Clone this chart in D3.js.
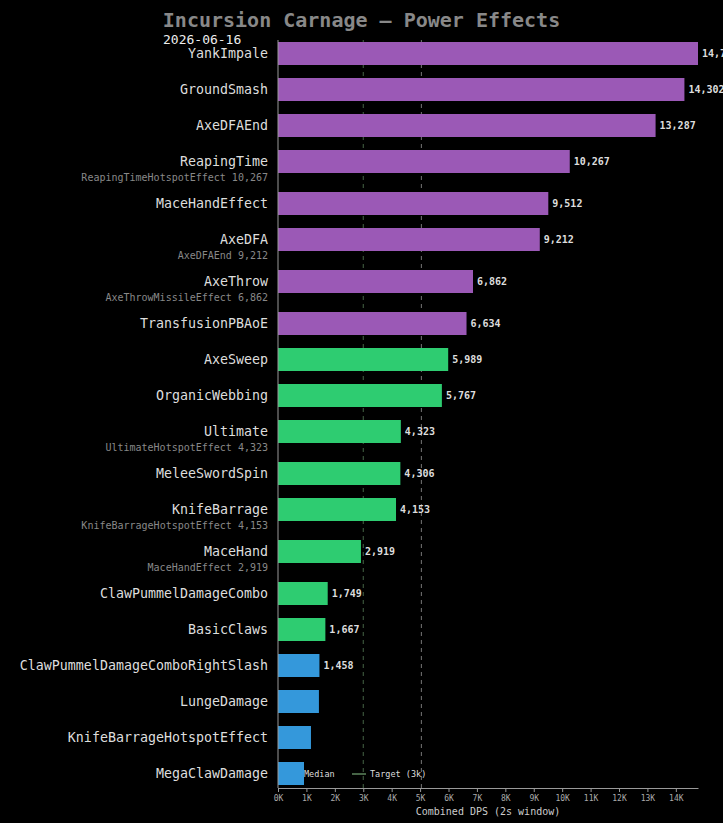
<!DOCTYPE html>
<html>
<head>
<meta charset="utf-8">
<script src="https://cdn.jsdelivr.net/npm/d3@7"></script>
<style>
  body { margin: 0; background: #000; }
  svg { display: block; font-family: "DejaVu Sans Mono", monospace; }
</style>
</head>
<body>
<div id="chart"></div>
<script>
// data
const powers = [
    'YankImpale', 'GroundSmash', 'AxeDFAEnd', 'ReapingTime', 'MaceHandEffect',
    'AxeDFA', 'AxeThrow', 'TransfusionPBAoE', 'AxeSweep', 'OrganicWebbing',
    'Ultimate', 'MeleeSwordSpin', 'KnifeBarrage', 'MaceHand', 'ClawPummelDamageCombo',
    'BasicClaws', 'ClawPummelDamageComboRightSlash', 'LungeDamage',
    'KnifeBarrageHotspotEffect', 'MegaClawDamage'
]
const dps = [
    14780, 14302, 13287, 10267, 9512,
    9212, 6862, 6634, 5989, 5767,
    4323, 4306, 4153, 2919, 1749,
    1667, 1458, 1440, 1160, 915
]
// secondary effect folded into each row (empty = none)
const subEffects = [
    '', '', '', 'ReapingTimeHotspotEffect', '',
    'AxeDFAEnd', 'AxeThrowMissileEffect', '', '', '',
    'UltimateHotspotEffect', '', 'KnifeBarrageHotspotEffect', 'MaceHandEffect', '',
    '', '', '', '', ''
]
const subDps = [
    0, 0, 0, 10267, 0,
    9212, 6862, 0, 0, 0,
    4323, 0, 4153, 2919, 0,
    0, 0, 0, 0, 0
]
const showValue = [
    true, true, true, true, true, true, true, true, true, true,
    true, true, true, true, true, true, true, false, false, false
]
const tickValues = [0, 1000, 2000, 3000, 4000, 5000, 6000, 7000, 8000, 9000, 10000, 11000, 12000, 13000, 14000]
const targetDps = 3000
const chartTitle = 'Incursion Carnage \u2014 Power Effects'
const chartDate = '2026-06-16'

const data = powers.map((p, i) => ({
    name: p, value: dps[i], sub: subEffects[i], subValue: subDps[i], label: showValue[i]
}))

/* Set the dimensions and margins */
const width = 723, height = 823
const margin = {top: 42, left: 278, right: 25}
const rowBase = 36, rowExtra = 6, barH = 23
const axisY = 788

const svg = d3.select('#chart')
    .append('svg')
    .attr('width', width)
    .attr('height', height)

const fmt = d3.format(',')

/* row offsets, rows with a sub effect get a little more room */
let acc = margin.top
const offsets = data.map(d => {
    const y = acc
    acc += rowBase + (d.sub ? rowExtra : 0)
    return y
})
const yScale = d3.scaleOrdinal()
    .domain(powers)
    .range(offsets)

const xScale = d3.scaleLinear()
    .domain([0, d3.max(dps)])
    .range([margin.left, width - margin.right])

const tier = v => v > 6000 ? 'high' : (v >= 1500 ? 'mid' : 'low')
const color = d3.scaleOrdinal()
    .domain(['high', 'mid', 'low'])
    .range(['#9b59b6', '#2ecc71', '#3498db'])

const median = d3.median(dps)

/* Title */
svg.append('text')
    .attr('x', width / 2)
    .attr('y', 27)
    .attr('text-anchor', 'middle')
    .attr('fill', '#888')
    .attr('font-size', 20)
    .attr('font-weight', 'bold')
    .text(chartTitle)

svg.append('text')
    .attr('x', 163)
    .attr('y', 44)
    .attr('fill', '#eee')
    .attr('font-size', 13)
    .text(chartDate)

/* reference lines */
svg.append('line')
    .attr('x1', xScale(targetDps)).attr('x2', xScale(targetDps))
    .attr('y1', margin.top - 2).attr('y2', axisY)
    .attr('stroke', '#466446')
    .attr('stroke-dasharray', '4,4')

svg.append('line')
    .attr('x1', xScale(median)).attr('x2', xScale(median))
    .attr('y1', margin.top - 2).attr('y2', axisY)
    .attr('stroke', '#777')
    .attr('stroke-dasharray', '4,4')

/* legend (drawn under the bars) */
const legend = svg.append('g')
    .attr('transform', `translate(${margin.left}, 774)`)
    .attr('font-size', 8.5)
    .attr('fill', '#ddd')
legend.append('line')
    .attr('x1', 4).attr('x2', 20).attr('y1', 0).attr('y2', 0)
    .attr('stroke', '#777').attr('stroke-width', 2).attr('stroke-dasharray', '4,2')
legend.append('text').attr('x', 26).attr('y', 3).text('Median')
legend.append('line')
    .attr('x1', 74).attr('x2', 88).attr('y1', 0).attr('y2', 0)
    .attr('stroke', '#466446').attr('stroke-width', 2)
legend.append('text').attr('x', 92).attr('y', 3).text('Target (3k)')

/* bars */
svg.append('g')
    .selectAll('rect')
    .data(data)
    .join('rect')
    .attr('x', xScale(0))
    .attr('y', d => yScale(d.name))
    .attr('width', d => xScale(d.value) - xScale(0))
    .attr('height', barH)
    .attr('fill', d => color(tier(d.value)))

/* value labels */
svg.append('g')
    .selectAll('text')
    .data(data.filter(d => d.label))
    .join('text')
    .attr('x', d => xScale(d.value) + 4)
    .attr('y', d => yScale(d.name) + barH / 2)
    .attr('dy', '0.35em')
    .attr('fill', '#ddd')
    .attr('font-size', 10)
    .attr('font-weight', 'bold')
    .text(d => fmt(d.value))

/* category labels */
svg.append('g')
    .selectAll('text')
    .data(data)
    .join('text')
    .attr('x', margin.left - 10)
    .attr('y', d => yScale(d.name) + barH / 2)
    .attr('dy', '0.35em')
    .attr('text-anchor', 'end')
    .attr('fill', '#ddd')
    .attr('font-size', 13.3)
    .text(d => d.name)

svg.append('g')
    .selectAll('text')
    .data(data.filter(d => d.sub))
    .join('text')
    .attr('x', margin.left - 10)
    .attr('y', d => yScale(d.name) + barH + 8)
    .attr('text-anchor', 'end')
    .attr('fill', '#888')
    .attr('font-size', 10)
    .text(d => `${d.sub} ${fmt(d.subValue)}`)

/* axes */
const xAxis = d3.axisBottom(xScale)
    .tickValues(tickValues)
    .tickFormat(d => (d / 1000) + 'K')
    .tickSize(4)
    .tickSizeOuter(0)
const xGroup = svg.append('g')
    .attr('transform', `translate(0, ${axisY})`)
    .call(xAxis)
xGroup.select('.domain').attr('stroke', '#999')
xGroup.selectAll('.tick line').attr('stroke', '#999')
xGroup.selectAll('.tick text')
    .attr('fill', '#aaa')
    .attr('font-size', 8)
    .attr('font-family', '"DejaVu Sans Mono", monospace')

svg.append('line')
    .attr('x1', margin.left).attr('x2', margin.left)
    .attr('y1', margin.top - 2).attr('y2', axisY)
    .attr('stroke', '#999')

svg.append('text')
    .attr('x', (xScale(0) + xScale(d3.max(dps))) / 2)
    .attr('y', 815)
    .attr('text-anchor', 'middle')
    .attr('fill', '#ccc')
    .attr('font-size', 10)
    .text('Combined DPS (2s window)')
</script>
</body>
</html>
